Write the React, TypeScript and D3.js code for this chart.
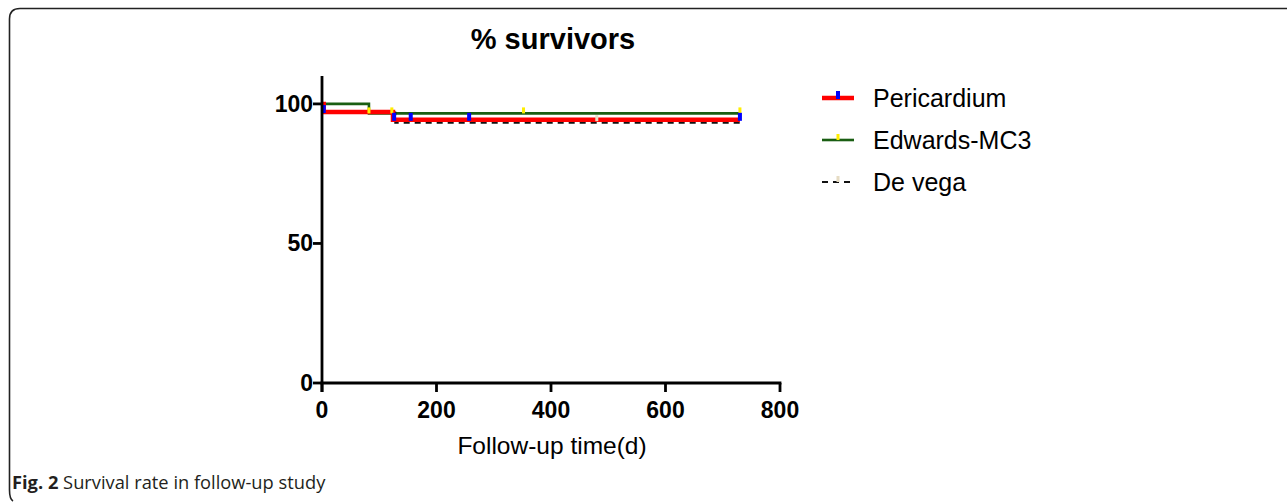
import React from 'react';
import * as d3 from 'd3';

// survival curves (step functions)
const pericardiumDays = [0, 3, 124, 730];
const pericardiumSurv = [100, 97.1, 94.3, 94.3];
const pericardiumCensorDays = [3, 126, 155, 257, 730];

const edwardsDays = [0, 82, 730];
const edwardsSurv = [100, 96.6, 96.6];
const edwardsCensorDays = [82, 122, 352, 730];

const devegaDays = [0, 2, 128, 730];
const devegaSurv = [100, 97.5, 93.8, 93.8];
const devegaCensorDays = [480];

const xTicks = [0, 200, 400, 600, 800];
const yTicks = [0, 50, 100];
const legendNames = ['Pericardium', 'Edwards-MC3', 'De vega'];

const W = 1287;
const H = 503;
const font = '"Liberation Sans", Arial, sans-serif';

const x = d3.scaleLinear().domain([0, 800]).range([322, 780]);
const y = d3.scaleLinear().domain([0, 110]).range([383, 76]);

const stepLine = d3
    .line<[number, number]>()
    .x(d => x(d[0]))
    .y(d => y(d[1]))
    .curve(d3.curveStepAfter);

const pts = (days: number[], surv: number[]) =>
    days.map((d, i) => [d, surv[i]] as [number, number]);

// value of a step curve at a given day
const valueAt = (days: number[], surv: number[], t: number) => {
    let v = surv[0];
    days.forEach((d, i) => {
        if (d <= t) v = surv[i];
    });
    return v;
};

const App = () => {
    const series = [
        { name: legendNames[0], color: '#ff0000', width: 4.5, dash: null, tick: '#0000ff', tw: 4, top: 7, bot: 1 },
        { name: legendNames[1], color: '#1a5e12', width: 2.6, dash: null, tick: '#ffee00', tw: 3, top: 6, bot: 0 },
        { name: legendNames[2], color: '#111111', width: 2, dash: '6,5', tick: '#e6dcc4', tw: 3, top: 6, bot: 0 },
    ];

    return (
        <svg
            width={W}
            height={H}
            style={{ position: 'absolute', left: 0, top: 0, background: '#fff' }}
        >
            {/* rounded frame */}
            <path
                d={`M${W},8.5 L20,8.5 Q9.5,8.5 9.5,19 L9.5,490 Q9.5,499 13,501`}
                fill="none"
                stroke="#222"
                strokeWidth={1.6}
            />

            <text x={553} y={49} textAnchor="middle" fontFamily={font} fontWeight="bold" fontSize={29}>
                % survivors
            </text>

            {/* curves: green, dashed, red on top */}
            <path d={stepLine(pts(edwardsDays, edwardsSurv)) || ''} fill="none" stroke={series[1].color} strokeWidth={series[1].width} />
            <path d={stepLine(pts(devegaDays, devegaSurv)) || ''} fill="none" stroke={series[2].color} strokeWidth={series[2].width} strokeDasharray={series[2].dash || undefined} transform="translate(0,1.5)" />
            <path d={stepLine(pts(pericardiumDays, pericardiumSurv)) || ''} fill="none" stroke={series[0].color} strokeWidth={series[0].width} />

            {/* censor marks */}
            {edwardsCensorDays.map(t => (
                <rect key={'e' + t} x={x(t) - 1.5} y={y(valueAt(edwardsDays, edwardsSurv, t)) - 6} width={3} height={6} fill={series[1].tick} />
            ))}
            {devegaCensorDays.map(t => (
                <rect key={'d' + t} x={x(t) - 1.5} y={y(valueAt(devegaDays, devegaSurv, t)) - 6} width={3} height={6} fill={series[2].tick} />
            ))}
            {pericardiumCensorDays.map(t => (
                <rect key={'p' + t} x={x(t) - 2} y={y(valueAt(pericardiumDays, pericardiumSurv, t)) - 7} width={4} height={8} fill={series[0].tick} />
            ))}

            {/* axes */}
            <g stroke="#000" strokeWidth={2.8}>
                <line x1={x(0)} x2={x(0)} y1={y(110)} y2={y(0) + 9} />
                <line x1={x(0) - 1.4} x2={x(800) + 1.4} y1={y(0)} y2={y(0)} />
                {yTicks.map(t => (
                    <line key={'yt' + t} x1={x(0) - 9} x2={x(0)} y1={y(t)} y2={y(t)} />
                ))}
                {xTicks.map(t => (
                    <line key={'xt' + t} x1={x(t)} x2={x(t)} y1={y(0)} y2={y(0) + 9} />
                ))}
            </g>
            <g fontFamily={font} fontWeight="bold" fontSize={23}>
                {yTicks.map(t => (
                    <text key={'yl' + t} x={x(0) - 9} y={y(t) + 8} textAnchor="end">
                        {t}
                    </text>
                ))}
                {xTicks.map(t => (
                    <text key={'xl' + t} x={x(t)} y={y(0) + 35} textAnchor="middle">
                        {t}
                    </text>
                ))}
            </g>
            <text x={552} y={454} textAnchor="middle" fontFamily={font} fontSize={24.5}>
                Follow-up time(d)
            </text>

            {/* legend */}
            {series.map((s, i) => {
                const ly = 98 + i * 42;
                return (
                    <g key={s.name}>
                        <line x1={822} x2={854} y1={ly} y2={ly} stroke={s.color} strokeWidth={s.dash ? 2 : s.width} strokeDasharray={s.dash || undefined} />
                        <rect x={838 - s.tw / 2} y={ly - s.top} width={s.tw} height={s.top + s.bot} fill={s.tick} />
                        <text x={873} y={ly + 9} fontFamily={font} fontSize={25}>
                            {s.name}
                        </text>
                    </g>
                );
            })}

            {/* caption */}
            <text x={12} y={489} fontFamily='"Open Sans", sans-serif' fontSize={18.3} fill="#231f20">
                <tspan fontWeight="bold">Fig. 2</tspan>
                <tspan> Survival rate in follow-up study</tspan>
            </text>
        </svg>
    );
};

export default App;
